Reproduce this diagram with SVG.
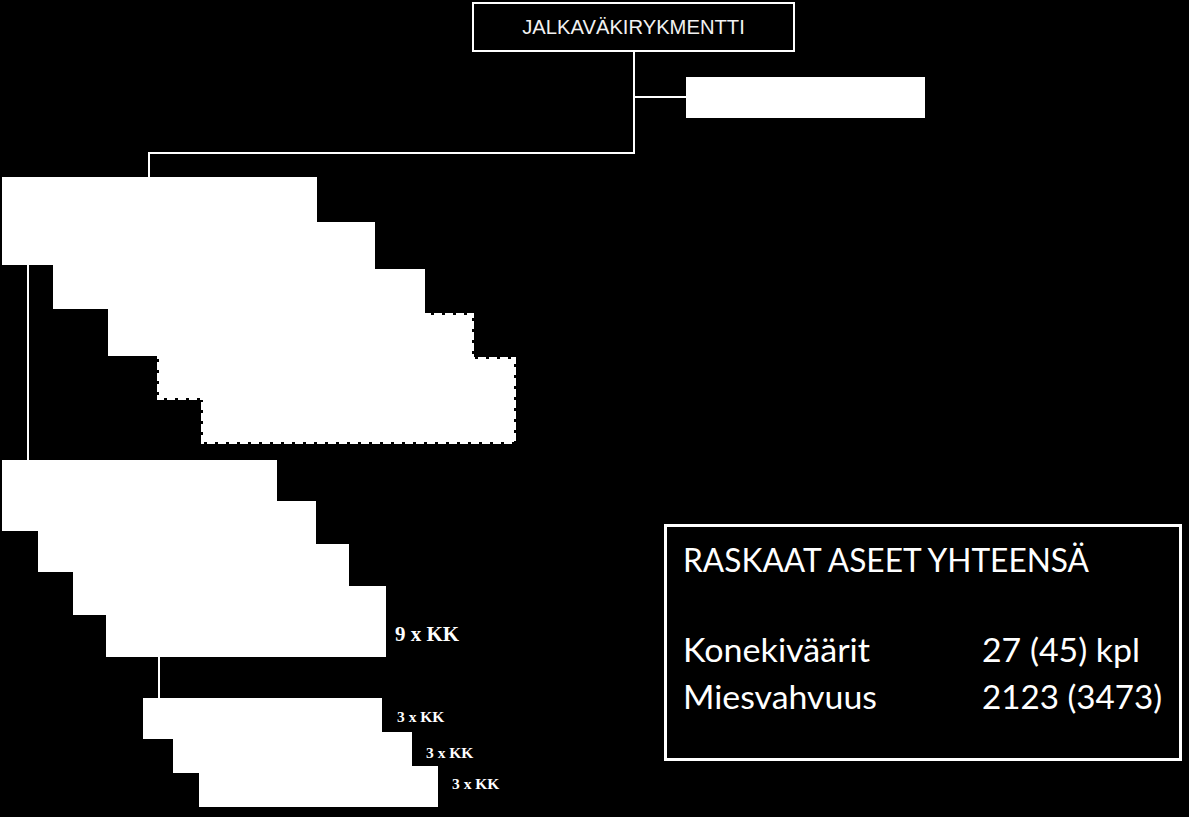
<svg xmlns="http://www.w3.org/2000/svg" width="1189" height="817" viewBox="0 0 1189 817">
  <style>
    .blk { fill: #ffffff; stroke: none; }
    .dash { fill: #ffffff; stroke: #ffffff; stroke-width: 4; stroke-dasharray: 8 3; }
    .conn { stroke: #ffffff; stroke-width: 2; fill: none; }
    .frame { fill: #000000; stroke: #ffffff; }
    .kk { font-family: "Liberation Serif", "Times New Roman", serif; font-weight: bold; fill: #ffffff; }
    .info { font-family: Lato, "Open Sans", "Liberation Sans", sans-serif; font-size: 33px; fill: #ffffff; }
  </style>
  <rect x="0" y="0" width="1189" height="817" fill="#000000"/>

  <g id="connectors">
    <line class="conn" x1="634" y1="52" x2="634" y2="153"/>
    <line class="conn" x1="634" y1="97" x2="686" y2="97"/>
    <line class="conn" x1="148" y1="153" x2="635" y2="153"/>
    <line class="conn" x1="149" y1="153" x2="149" y2="177"/>
    <line class="conn" x1="28" y1="265" x2="28" y2="460"/>
    <line class="conn" x1="159" y1="657" x2="159" y2="698"/>
  </g>

  <g id="node-root">
    <rect class="frame" x="473" y="3" width="321" height="48" stroke-width="2"/>
    <text x="633.5" y="34" text-anchor="middle" font-family="Liberation Sans, Arial, sans-serif" font-size="20.2" fill="#f2f2f2">JALKAVÄKIRYKMENTTI</text>
  </g>

  <g id="node-staff">
    <rect class="blk" x="686" y="77" width="239" height="41"/>
  </g>

  <g id="node-group-a">
    <rect id="a1" class="blk" x="2" y="177" width="315" height="88"/>
    <rect id="a2" class="blk" x="53" y="222" width="322" height="87"/>
    <rect id="a3" class="blk" x="108" y="269" width="317" height="87"/>
    <rect id="a4" class="dash" x="159" y="315" width="313" height="83"/>
    <rect id="a5" class="dash" x="203" y="359" width="311" height="83"/>
  </g>

  <g id="node-group-b">
    <rect id="b1" class="blk" x="2" y="460" width="275" height="71"/>
    <rect id="b2" class="blk" x="38" y="501" width="278" height="71"/>
    <rect id="b3" class="blk" x="73" y="544" width="276" height="71"/>
    <rect id="b4" class="blk" x="106" y="586" width="280" height="71"/>
    <text class="kk" x="395" y="641" font-size="21">9 x KK</text>
  </g>

  <g id="node-group-c">
    <rect id="c1" class="blk" x="143" y="698" width="239" height="41"/>
    <rect id="c2" class="blk" x="173" y="732" width="239" height="41"/>
    <rect id="c3" class="blk" x="199" y="766" width="239" height="41"/>
    <text class="kk" x="397" y="722" font-size="15.5">3 x KK</text>
    <text class="kk" x="426" y="758" font-size="15.5">3 x KK</text>
    <text class="kk" x="452" y="789" font-size="15.5">3 x KK</text>
  </g>

  <g id="node-summary">
    <rect class="frame" x="665.5" y="525.5" width="515" height="234" stroke-width="3"/>
    <text class="info" x="683" y="572" textLength="406" lengthAdjust="spacingAndGlyphs">RASKAAT ASEET YHTEENSÄ</text>
    <text class="info" x="683" y="662" textLength="187" lengthAdjust="spacingAndGlyphs">Konekiväärit</text>
    <text class="info" x="982" y="662" textLength="158" lengthAdjust="spacingAndGlyphs">27 (45) kpl</text>
    <text class="info" x="683" y="709" textLength="194" lengthAdjust="spacingAndGlyphs">Miesvahvuus</text>
    <text class="info" x="982" y="709" textLength="180" lengthAdjust="spacingAndGlyphs">2123 (3473)</text>
  </g>
</svg>
